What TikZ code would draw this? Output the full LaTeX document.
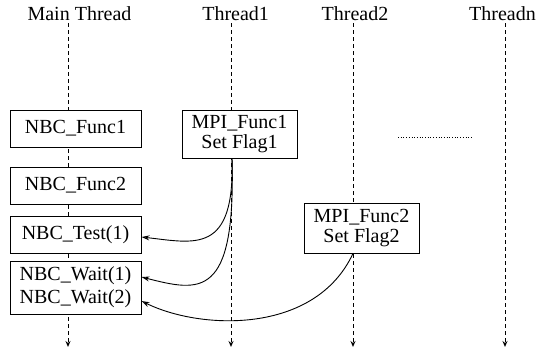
\documentclass[tikz,border=0pt]{standalone}
\usepackage{fontspec}
\setmainfont{Liberation Serif}
\usetikzlibrary{arrows.meta}
\begin{document}
\begin{tikzpicture}[x=1pt,y=-1pt,
  font=\fontsize{20}{22}\selectfont,
  box/.style={draw, line width=0.9pt, fill=white, inner sep=0pt, minimum width=131pt, minimum height=37pt, align=center},
  mbox/.style={draw, line width=0.9pt, fill=white, inner sep=0pt, minimum width=115pt, align=center},
  life/.style={line width=0.9pt, dash pattern=on 4pt off 3pt, -{Stealth[length=6pt,width=5pt,open]}},
  msg/.style={line width=0.9pt, -{Stealth[length=8pt,width=5pt,open]}},
  title/.style={anchor=base}]
\useasboundingbox (0,0) rectangle (536,354);
% titles
\node[title] (tm) at (79.5,20) {Main Thread};
\node[title] (t1) at (235.6,20) {Thread1};
\node[title] (t2) at (355,20) {Thread2};
\node[title] (tn) at (502.5,20) {Threadn};
% lifelines
\coordinate (l0t) at (68,23);  \coordinate (l0b) at (68,347);
\coordinate (l1t) at (231,23); \coordinate (l1b) at (231,347);
\coordinate (l2t) at (353,23); \coordinate (l2b) at (353,347);
\coordinate (lnt) at (505,23); \coordinate (lnb) at (505,347);
\draw[life] (l0t) -- (l0b);
\draw[life] (l1t) -- (l1b);
\draw[life] (l2t) -- (l2b);
\draw[life] (lnt) -- (lnb);
% boxes
\node[box] (f1) at (75.5,128.5) {NBC\_Func1};
\node[box] (f2) at (75.5,185.5) {NBC\_Func2};
\node[box] (test) at (75.5,234.5) {NBC\_Test(1)};
\node[box, minimum height=53pt] (wait) at (75.5,287.5) {NBC\_Wait(1)\\[1pt]NBC\_Wait(2)};
\node[mbox, minimum height=48pt] (m1) at (239.5,134) {MPI\_Func1\\[-2pt]Set Flag1};
\node[mbox, minimum height=50pt] (m2) at (361.5,228) {MPI\_Func2\\[-2pt]Set Flag2};
% dotted ellipsis
\coordinate (d1) at (398,137); \coordinate (d2) at (472,137);
\draw[line width=0.7pt, dotted] (d1) -- (d2);
% messages
\coordinate (w1) at (141.5,277);
\coordinate (w2) at (141.5,301);
\draw[msg] (m1.south -| 232,0) .. controls (235,255) and (195,243) .. (test.east |- 0,237);
\draw[msg] (m1.south -| 232,0) .. controls (236,300) and (200,292) .. (w1);
\draw[msg] (m2.south -| l2t) .. controls (315,335) and (200,330) .. (w2);
\end{tikzpicture}
\end{document}
